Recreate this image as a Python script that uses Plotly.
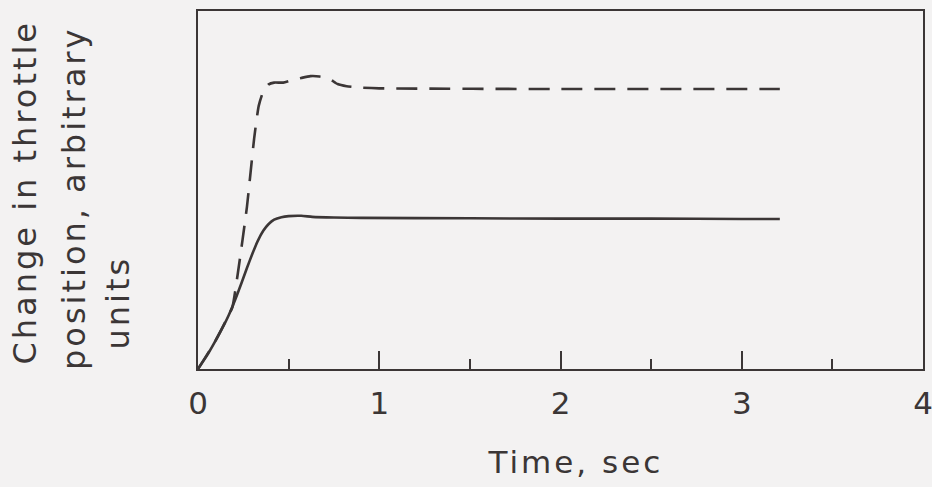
import plotly.graph_objects as go

# Time axis (sec) and throttle responses (arbitrary units, 0-10 scale)
solid_t = [0, 0.05, 0.09, 0.13, 0.17, 0.21, 0.24, 0.27, 0.30, 0.33, 0.36, 0.39, 0.42, 0.46, 0.50, 0.57, 0.63, 0.75, 0.90, 1.5, 2.0, 2.5, 3.0, 3.21]
solid_y = [0, 0.38, 0.73, 1.10, 1.51, 2.00, 2.40, 2.82, 3.22, 3.58, 3.86, 4.05, 4.17, 4.24, 4.27, 4.28, 4.25, 4.23, 4.22, 4.21, 4.20, 4.20, 4.19, 4.19]

dashed_t = [0, 0.09, 0.17, 0.19, 0.22, 0.27, 0.31, 0.335, 0.36, 0.39, 0.42, 0.47, 0.52, 0.57,
            0.62, 0.67, 0.72, 0.77, 0.82, 0.90, 1.0, 2.0, 3.21]
dashed_y = [0, 0.73, 1.51, 1.73, 2.68, 4.53, 6.45, 7.35, 7.75, 7.95, 8.0, 8.0, 8.07, 8.13,
            8.18, 8.17, 8.12, 7.96, 7.90, 7.86, 7.84, 7.82, 7.82]

x_ticks = [0, 1, 2, 3, 4]
x_ticklabels = ["0", "1", "2", "3", "4"]

y_title_lines = ["Change in throttle", "position, arbitrary", "units"]
x_title = "Time, sec"

ink = "#3b3636"
bg = "#f3f2f2"
font_family = "DejaVu Sans"

L, T, W, H = 198, 11, 725, 358  # plot area in pixels


def px_x(p):
    return (p - L) / W


def px_y(p):
    return (T + H - p) / H


fig = go.Figure()
fig.add_trace(go.Scatter(x=solid_t, y=solid_y, mode="lines",
                         line=dict(color=ink, width=2.6, shape="spline", smoothing=0.4),
                         showlegend=False, hoverinfo="skip"))
fig.add_trace(go.Scatter(x=dashed_t, y=dashed_y, mode="lines",
                         line=dict(color=ink, width=2.6, dash="21px,12px", shape="spline", smoothing=0.5),
                         showlegend=False, hoverinfo="skip"))

annotations = []
for text, left, bottom in zip(y_title_lines, [3, 53, 96], [367, 372, 352]):
    annotations.append(dict(text=text, textangle=-90, showarrow=False, align="left",
                            xref="paper", yref="paper", x=px_x(left), y=px_y(bottom),
                            xanchor="left", yanchor="bottom",
                            font=dict(size=32, color=ink, family=font_family)))
annotations.append(dict(text=x_title, showarrow=False,
                        xref="paper", yref="paper", x=px_x(575), y=px_y(462),
                        xanchor="center", yanchor="middle",
                        font=dict(size=31, color=ink, family=font_family)))

fig.update_layout(
    width=932, height=487, autosize=False,
    margin=dict(l=L, r=932 - L - W, t=T, b=487 - T - H),
    paper_bgcolor=bg, plot_bgcolor=bg,
    font=dict(family=font_family, color=ink, size=31),
    xaxis=dict(range=[0, 4], tickvals=x_ticks, ticktext=x_ticklabels,
               ticks="inside", ticklen=18, tickwidth=2, tickcolor=ink,
               minor=dict(dtick=0.5, ticks="inside", ticklen=10, tickwidth=2, tickcolor=ink),
               showline=True, linewidth=2.2, linecolor=ink, mirror=True,
               showgrid=False, zeroline=False, ticklabelstandoff=6, automargin=False,
               ticklabeloverflow="allow",
               tickfont=dict(size=31, color=ink, family=font_family)),
    yaxis=dict(range=[0, 10], showticklabels=False, ticks="",
               showline=True, linewidth=2.2, linecolor=ink, mirror=True,
               showgrid=False, zeroline=False, automargin=False),
    annotations=annotations,
)

post = """
document.documentElement.style.overflow = 'hidden';
document.body.style.margin = '0';
document.body.style.padding = '0';
document.body.style.overflow = 'hidden';
document.body.style.background = '%s';
var gd = document.getElementById('{plot_id}');
function spacing() {
  var anns = document.querySelectorAll('g.annotation .annotation-text');
  for (var i = 0; i < anns.length; i++) {
    anns[i].style.letterSpacing = '3px';
  }
}
Plotly.relayout(gd, {width: 932, height: 487}).then(spacing);
spacing();
""" % bg
fig.write_html("out.html", post_script=post, config={"displayModeBar": False, "responsive": False})
